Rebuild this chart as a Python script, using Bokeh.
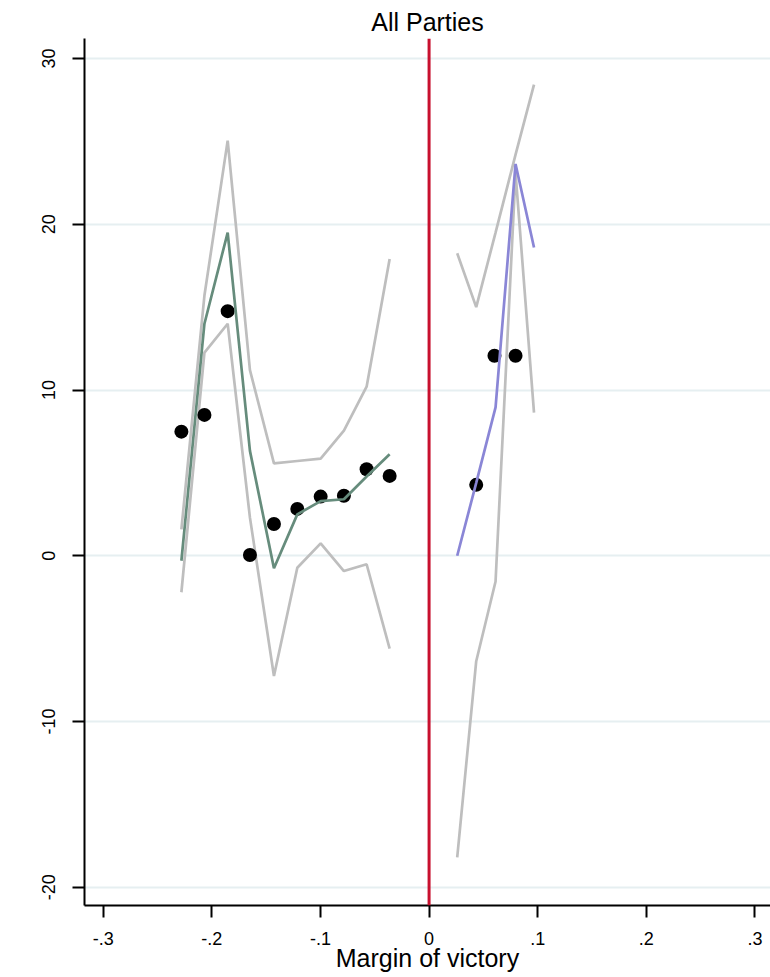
from bokeh.plotting import figure
from bokeh.models import Range1d, FixedTicker, Span
from bokeh.embed import file_html
from bokeh.resources import INLINE

# ---- data ----
x_left = [-0.228, -0.2068, -0.1854, -0.1649, -0.1428, -0.1213, -0.0998, -0.0784, -0.0575, -0.0363]
dots_left = [7.49, 8.50, 14.76, 0.05, 1.92, 2.83, 3.57, 3.62, 5.22, 4.82]
fit_left = [-0.3, 14.0, 19.5, 6.33, -0.75, 2.5, 3.3, 3.41, 4.78, 6.13]
upper_left = [1.6, 15.7, 25.05, 11.2, 5.58, 5.72, 5.86, 7.55, 10.2, 17.9]
lower_left = [-2.2, 12.26, 14.0, 2.3, -7.25, -0.72, 0.75, -0.92, -0.51, -5.6]

x_right = [0.0259, 0.0434, 0.0612, 0.0796, 0.0966]
fit_right = [0.0, 4.4, 8.95, 23.64, 18.6]
upper_right = [18.25, 15.0, 19.5, 24.2, 28.43]
lower_right = [-18.2, -6.36, -1.55, 23.1, 8.64]

x_dots_right = [0.0434, 0.0602, 0.0796]
dots_right = [4.28, 12.07, 12.07]

x_ticks = [-0.3, -0.2, -0.1, 0.0, 0.1, 0.2, 0.3]
x_tick_labels = ["-.3", "-.2", "-.1", "0", ".1", ".2", ".3"]
y_ticks = [-20, -10, 0, 10, 20, 30]
y_tick_labels = ["-20", "-10", "0", "10", "20", "30"]

FONT = "Liberation Sans"

p = figure(width=770, height=977,
           x_range=Range1d(-0.3172, 0.3143), y_range=Range1d(-21.1, 31.21),
           output_backend="svg", toolbar_location=None,
           min_border_left=84, min_border_right=0, min_border_top=38, min_border_bottom=72,
           title="All Parties")

p.outline_line_color = None
p.background_fill_color = "white"
p.border_fill_color = "white"

p.title.align = "center"
p.title.vertical_align = "top"
p.title.text_font = FONT
p.title.text_font_size = "25px"
p.title.text_font_style = "normal"
p.title.text_color = "black"
p.title.standoff = 1

# grid
p.xgrid.visible = False
p.ygrid.ticker = FixedTicker(ticks=y_ticks)
p.ygrid.grid_line_color = "#E6EFF1"
p.ygrid.grid_line_width = 2

# axes
for ax in (p.xaxis[0], p.yaxis[0]):
    ax.axis_line_color = "black"
    ax.axis_line_width = 2
    ax.major_tick_line_color = "black"
    ax.major_tick_line_width = 2
    ax.major_tick_out = 12
    ax.major_tick_in = 0
    ax.minor_tick_line_color = None
    ax.major_label_text_font = FONT
    ax.major_label_text_font_size = "18px"
    ax.major_label_text_color = "black"

p.xaxis.ticker = FixedTicker(ticks=x_ticks)
p.xaxis.major_label_overrides = {t: l for t, l in zip(x_ticks, x_tick_labels)}
p.xaxis.major_label_standoff = 14
p.xaxis.axis_label = "Margin of victory"
p.xaxis.axis_label_text_font = FONT
p.xaxis.axis_label_text_font_size = "25px"
p.xaxis.axis_label_text_font_style = "normal"
p.xaxis.axis_label_text_color = "black"
p.xaxis.axis_label_standoff = -4

p.yaxis.ticker = FixedTicker(ticks=y_ticks)
p.yaxis.major_label_overrides = {t: l for t, l in zip(y_ticks, y_tick_labels)}
p.yaxis.major_label_orientation = "vertical"
p.yaxis.major_label_standoff = 17

# cutoff line
p.add_layout(Span(location=0, dimension="height", line_color="#C8102E", line_width=3))

GRAY = "#BEBEBE"
LW = 2.7
# confidence bands
p.line(x_left, upper_left, line_color=GRAY, line_width=LW)
p.line(x_left, lower_left, line_color=GRAY, line_width=LW)
p.line(x_right, upper_right, line_color=GRAY, line_width=LW)
p.line(x_right, lower_right, line_color=GRAY, line_width=LW)

# binned means
p.scatter(x_left, dots_left, size=14, fill_color="black", line_color=None)
p.scatter(x_dots_right, dots_right, size=14, fill_color="black", line_color=None)

# fitted lines
p.line(x_left, fit_left, line_color="#668C7C", line_width=LW)
p.line(x_right, fit_right, line_color="#8A86D6", line_width=LW)

open("out.html", "w").write(file_html(p, INLINE))
